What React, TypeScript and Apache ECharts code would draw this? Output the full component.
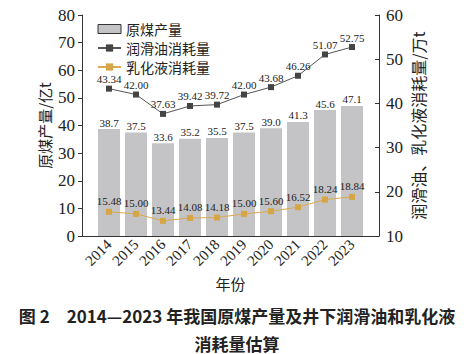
import React, { useEffect, useRef } from "react";
import * as echarts from "echarts";

const years = [2014, 2015, 2016, 2017, 2018, 2019, 2020, 2021, 2022, 2023];
const coal = [38.7, 37.5, 33.6, 35.2, 35.5, 37.5, 39.0, 41.3, 45.6, 47.1];
const lube = [43.34, 42.0, 37.63, 39.42, 39.72, 42.0, 43.68, 46.26, 51.07, 52.75];
const emul = [15.48, 15.0, 13.44, 14.08, 14.18, 15.0, 15.6, 16.52, 18.24, 18.84];

const SERIF = "Liberation Serif";
const CJK = "Noto Sans CJK SC";

export default function App() {
  const ref = useRef<HTMLDivElement>(null);
  useEffect(() => {
    document.body.style.margin = "0";
    const chart = echarts.init(ref.current!, undefined, { renderer: "svg" });
    chart.setOption({
      animation: false,
      grid: { left: 82, right: 95, top: 15, bottom: 118 },
      legend: {
        orient: "vertical",
        left: 92,
        top: 17,
        itemWidth: 23,
        itemHeight: 9,
        itemGap: 5,
        textStyle: { fontFamily: CJK, fontSize: 14, color: "#222" },
        data: [
          { name: "原煤产量", icon: "rect", itemStyle: { borderColor: "#333", borderWidth: 1 } },
          { name: "润滑油消耗量" },
          { name: "乳化液消耗量" },
        ],
      },
      xAxis: {
        type: "value",
        min: 2013,
        max: 2024,
        interval: 1,
        name: "年份",
        nameLocation: "middle",
        nameGap: 40,
        nameMoveOverlap: false,
        nameTextStyle: { fontFamily: CJK, fontSize: 15, color: "#222" },
        axisLine: { lineStyle: { color: "#333" } },
        axisTick: { show: false },
        splitLine: { show: false },
        axisLabel: {
          rotate: 45,
          fontFamily: SERIF,
          fontSize: 15,
          color: "#222",
          margin: 6,
          formatter: (v: number) => (v < 2014 || v > 2023 ? "" : String(v)),
        },
      },
      yAxis: [
        {
          type: "value",
          min: 0,
          max: 80,
          interval: 10,
          name: "原煤产量/亿t",
          nameLocation: "middle",
          nameGap: 30,
          nameMoveOverlap: false,
          nameTextStyle: { fontFamily: CJK, fontSize: 15, color: "#222" },
          axisLine: { show: true, lineStyle: { color: "#333" } },
          axisTick: { show: true, length: 4 },
          splitLine: { show: false },
          axisLabel: { fontFamily: SERIF, fontSize: 17, color: "#222", margin: 7 },
        },
        {
          type: "value",
          position: "right",
          min: 10,
          max: 60,
          interval: 10,
          name: "润滑油、乳化液消耗量/万t",
          nameLocation: "middle",
          nameGap: 31,
          nameRotate: 90,
          nameMoveOverlap: false,
          nameTextStyle: { fontFamily: CJK, fontSize: 16, color: "#222" },
          axisLine: { show: true, lineStyle: { color: "#333" } },
          axisTick: { show: true, inside: true, length: 4 },
          splitLine: { show: false },
          axisLabel: { fontFamily: SERIF, fontSize: 17, color: "#222", margin: 7 },
        },
      ],
      series: [
        {
          name: "原煤产量",
          type: "bar",
          yAxisIndex: 0,
          barWidth: 22,
          itemStyle: { color: "#c4c4c6" },
          label: {
            show: true,
            position: "top",
            distance: 1,
            fontFamily: SERIF,
            fontSize: 11,
            color: "#222",
            formatter: (p: any) => p.value[1].toFixed(1),
          },
          data: years.map((y, i) => [y, coal[i]]),
        },
        {
          name: "润滑油消耗量",
          type: "line",
          yAxisIndex: 1,
          symbol: "rect",
          symbolSize: 6,
          lineStyle: { color: "#555", width: 1 },
          itemStyle: { color: "#444" },
          label: {
            show: true,
            position: "top",
            distance: 1,
            fontFamily: SERIF,
            fontSize: 11,
            color: "#222",
            formatter: (p: any) => p.value[1].toFixed(2),
          },
          data: years.map((y, i) => [y, lube[i]]),
        },
        {
          name: "乳化液消耗量",
          type: "line",
          yAxisIndex: 1,
          symbol: "rect",
          symbolSize: 6,
          lineStyle: { color: "#d9aa4e", width: 1 },
          itemStyle: { color: "#d6a545" },
          label: {
            show: true,
            position: "top",
            distance: 2,
            fontFamily: SERIF,
            fontSize: 11,
            color: "#222",
            formatter: (p: any) => p.value[1].toFixed(2),
          },
          data: years.map((y, i) => [y, emul[i]]),
        },
      ],
      graphic: [
        {
          type: "text",
          left: "center",
          top: 306,
          style: {
            text: "图 2　2014—2023 年我国原煤产量及井下润滑油和乳化液",
            fontFamily: CJK,
            fontSize: 17,
            lineHeight: 18,
            fontWeight: "bold",
            fill: "#222",
          },
        },
        {
          type: "text",
          left: "center",
          top: 334,
          style: {
            text: "消耗量估算",
            fontFamily: CJK,
            fontSize: 17,
            lineHeight: 18,
            fontWeight: "bold",
            fill: "#222",
          },
        },
      ],
    });
    return () => chart.dispose();
  }, []);
  return <div ref={ref} style={{ width: 474, height: 354 }} />;
}
